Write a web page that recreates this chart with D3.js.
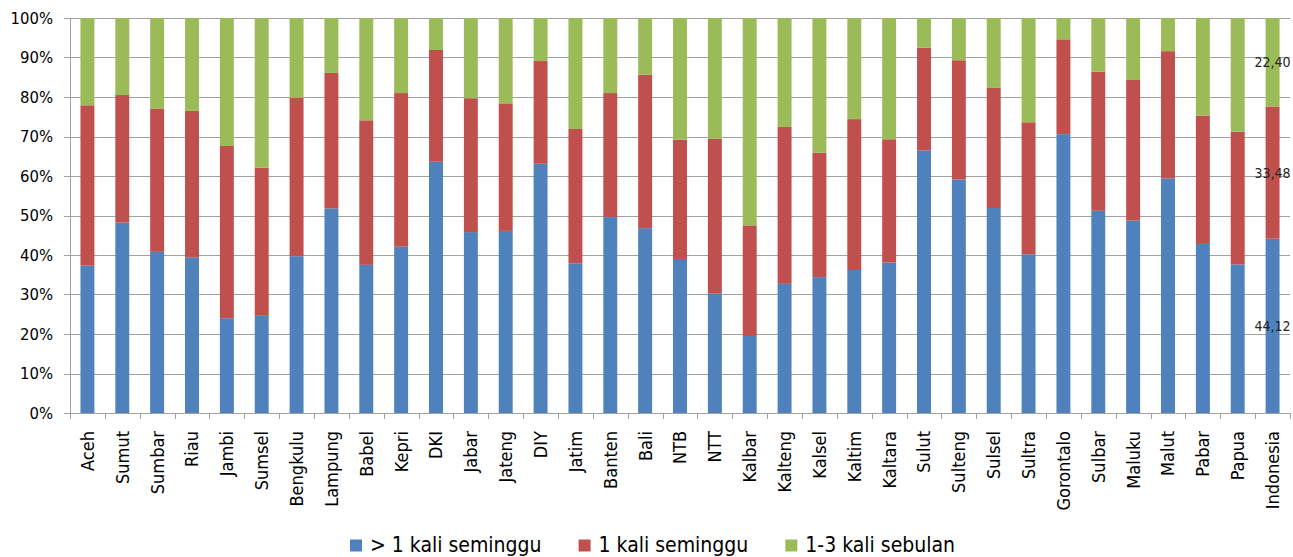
<!DOCTYPE html>
<html><head><meta charset="utf-8">
<script src="https://cdn.jsdelivr.net/npm/d3@7"></script>
<style>
body{margin:0;background:#fff}
text{font-family:"DejaVu Sans Condensed","DejaVu Sans",sans-serif;font-stretch:condensed}
</style>
</head><body>
<svg id="chart" width="1293" height="557"></svg>
<script>
const categories = ["Aceh","Sumut","Sumbar","Riau","Jambi","Sumsel","Bengkulu","Lampung","Babel","Kepri","DKI","Jabar","Jateng","DIY","Jatim","Banten","Bali","NTB","NTT","Kalbar","Kalteng","Kalsel","Kaltim","Kaltara","Sulut","Sulteng","Sulsel","Sultra","Gorontalo","Sulbar","Maluku","Malut","Pabar","Papua","Indonesia"];
const seriesNames = ["> 1 kali seminggu","1 kali seminggu","1-3 kali sebulan"];
const moreThanOnceWeek = [37.3,48.2,40.8,39.4,24.0,24.6,39.7,51.8,37.5,42.1,63.6,45.8,46.1,63.1,37.9,49.6,46.8,39.0,30.2,19.5,32.7,34.4,36.2,38.1,66.5,59.1,51.9,40.2,70.6,51.2,48.7,59.4,42.8,37.6,44.12];
const onceWeek = [40.6,32.3,36.3,37.1,43.6,37.5,40.1,34.3,36.6,38.9,28.3,33.9,32.3,26.0,34.0,31.4,38.8,30.2,39.2,28.0,39.7,31.5,38.2,31.2,26.0,30.2,30.4,33.4,24.0,35.2,35.6,32.2,32.5,33.6,33.48];
const oneToThreeMonth = [22.1,19.5,22.9,23.5,32.4,37.9,20.2,13.9,25.9,19.0,8.1,20.3,21.6,10.9,28.1,19.0,14.4,30.8,30.6,52.5,27.6,34.1,25.6,30.7,7.5,10.7,17.7,26.4,5.4,13.6,15.7,8.4,24.7,28.8,22.40];
const yTicks = [0,10,20,30,40,50,60,70,80,90,100];
const labelledCategory = "Indonesia";
const colors = ["#4f81bd","#c0504d","#9bbb59"];

const keys = ["a","b","c"];
const table = categories.map((c,i)=>({cat:c,a:moreThanOnceWeek[i],b:onceWeek[i],c:oneToThreeMonth[i]}));
const stacked = d3.stack().keys(keys)(table);

const svg = d3.select("#chart");
const m = {left:70,right:1290,top:18,bottom:413};
const x = d3.scaleBand().domain(categories).range([m.left,m.right]).paddingInner(0.6).paddingOuter(0.3);
const y = d3.scaleLinear().domain([0,100]).range([m.bottom,m.top]);
const step = x.step();

// gridlines
svg.append("g").selectAll("line").data(yTicks).join("line")
  .attr("x1",m.left-6).attr("x2",m.right)
  .attr("y1",d=>Math.round(y(d))+0.5).attr("y2",d=>Math.round(y(d))+0.5)
  .attr("stroke","#a0a0a0").attr("stroke-width",1);
// y axis line
svg.append("line").attr("x1",m.left+0.5).attr("x2",m.left+0.5)
  .attr("y1",m.top).attr("y2",m.bottom+0.5).attr("stroke","#a0a0a0");
// y labels
svg.append("g").selectAll("text").data(yTicks).join("text")
  .attr("x",53).attr("y",d=>y(d)).attr("dy","0.36em").attr("text-anchor","end")
  .attr("font-size",16.5).attr("fill","#000").text(d=>d+"%");

// x ticks at band boundaries
const bounds = d3.range(categories.length+1).map(i=>m.left+i*step);
svg.append("g").selectAll("line").data(bounds).join("line")
  .attr("x1",d=>Math.round(d)+0.5).attr("x2",d=>Math.round(d)+0.5)
  .attr("y1",m.bottom).attr("y2",m.bottom+6).attr("stroke","#a0a0a0");

// bars
svg.append("g").selectAll("g").data(stacked).join("g")
  .attr("fill",(d,i)=>colors[i])
  .selectAll("rect").data(d=>d).join("rect")
  .attr("x",d=>x(d.data.cat)).attr("width",x.bandwidth())
  .attr("y",d=>y(d[1])).attr("height",d=>y(d[0])-y(d[1]));

// category labels
svg.append("g").selectAll("text").data(categories).join("text")
  .attr("transform",d=>`translate(${x(d)+x.bandwidth()/2},431) rotate(-90)`)
  .attr("dy","0.36em").attr("text-anchor","end").attr("font-size",18).attr("fill","#000")
  .text(d=>d);

// data labels for Indonesia
const fmt = d3.formatLocale({decimal:",",thousands:".",grouping:[3],currency:["",""]}).format(".2f");
const li = categories.indexOf(labelledCategory);
svg.append("g").selectAll("text").data(stacked.map(s=>s[li])).join("text")
  .attr("x",x(labelledCategory)+x.bandwidth()/2).attr("y",d=>y((d[0]+d[1])/2))
  .attr("dy","0.36em").attr("text-anchor","middle").attr("font-size",14).attr("fill","#262626")
  .text(d=>fmt(d[1]-d[0]));

// legend
const lg = svg.append("g");
let lx = 350;
seriesNames.forEach((n,i)=>{
  lg.append("rect").attr("x",lx).attr("y",539.5).attr("width",12).attr("height",12).attr("fill",colors[i]);
  const t = lg.append("text").attr("x",lx+20).attr("y",552).attr("font-size",21).attr("fill","#000").text(n);
  lx += 20 + t.node().getComputedTextLength() + 37;
});
</script>
</body></html>
